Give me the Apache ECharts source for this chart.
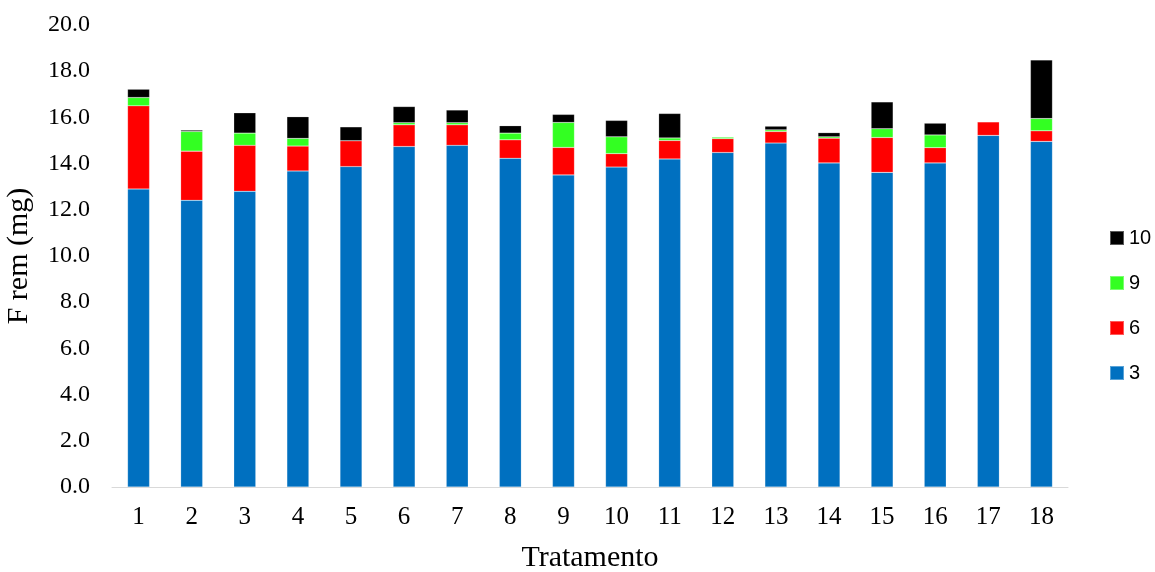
<!DOCTYPE html>
<html>
<head>
<meta charset="utf-8">
<script src="https://cdn.jsdelivr.net/npm/echarts@6/dist/echarts.min.js"></script>
<style>
  html, body { margin: 0; padding: 0; background: #fff; }
  #chart { width: 1155px; height: 572px; }
</style>
</head>
<body>
<div id="chart"></div>
<script>
// Treatments on the x axis
const tratamentos = ['1','2','3','4','5','6','7','8','9','10','11','12','13','14','15','16','17','18'];

// Stacked components of F rem (mg) per treatment
const s3  = [12.90, 12.41, 12.80, 13.68, 13.87, 14.74, 14.79, 14.23, 13.51, 13.85, 14.20, 14.48, 14.89, 14.03, 13.62, 14.03, 15.22, 14.96];
const s6  = [3.60, 2.13, 1.99, 1.08, 1.12, 0.94, 0.89, 0.80, 1.19, 0.58, 0.80, 0.60, 0.50, 1.07, 1.51, 0.66, 0.59, 0.46];
const s9  = [0.36, 0.85, 0.53, 0.33, 0.00, 0.09, 0.09, 0.29, 1.08, 0.73, 0.11, 0.07, 0.07, 0.06, 0.38, 0.55, 0.00, 0.53];
const s10 = [0.36, 0.06, 0.88, 0.94, 0.60, 0.70, 0.55, 0.32, 0.35, 0.71, 1.06, 0.00, 0.16, 0.18, 1.16, 0.51, 0.00, 2.54];

const yTicks = { min: 0, max: 20, interval: 2 };

const serif = '"Liberation Serif", "DejaVu Serif", serif';

function barSeries(name, data, color) {
  return {
    name: name,
    type: 'bar',
    stack: 'total',
    barWidth: 22,
    data: data,
    itemStyle: { color: color, borderColor: 'rgba(255,255,255,0.35)', borderWidth: 0.5 },
    emphasis: { disabled: true }
  };
}

const chart = echarts.init(document.getElementById('chart'));
chart.setOption({
  animation: false,
  backgroundColor: '#ffffff',
  grid: { left: 112, right: 87, top: 25, bottom: 85, containLabel: false, outerBoundsMode: 'none' },
  legend: {
    orient: 'vertical',
    left: 1104,
    top: 223,
    itemWidth: 14,
    itemHeight: 14,
    itemGap: 25,
    icon: 'rect',
    data: ['10', '9', '6', '3'],
    textStyle: { fontFamily: '"Liberation Sans", "Noto Sans", sans-serif', fontSize: 20, color: '#000' }
  },
  xAxis: {
    type: 'category',
    data: tratamentos,
    name: 'Tratamento',
    nameLocation: 'middle',
    nameGap: 56,
    nameTextStyle: { fontFamily: serif, fontSize: 30, color: '#000' },
    axisLine: { show: true, lineStyle: { color: '#d9d9d9', width: 1 } },
    axisTick: { show: false },
    axisLabel: { fontFamily: serif, fontSize: 25, color: '#000', margin: 18 }
  },
  yAxis: {
    type: 'value',
    min: yTicks.min,
    max: yTicks.max,
    interval: yTicks.interval,
    name: 'F rem (mg)',
    nameLocation: 'middle',
    nameGap: 78,
    nameRotate: 90,
    nameTextStyle: { fontFamily: serif, fontSize: 30, color: '#000' },
    axisLine: { show: false },
    axisTick: { show: false },
    splitLine: { show: false },
    axisLabel: {
      fontFamily: serif, fontSize: 24, color: '#000', margin: 22,
      formatter: v => v.toFixed(1)
    }
  },
  series: [
    barSeries('3', s3, '#0070c0'),
    barSeries('6', s6, '#ff0000'),
    barSeries('9', s9, '#33ff22'),
    barSeries('10', s10, '#000000')
  ]
});
</script>
</body>
</html>
